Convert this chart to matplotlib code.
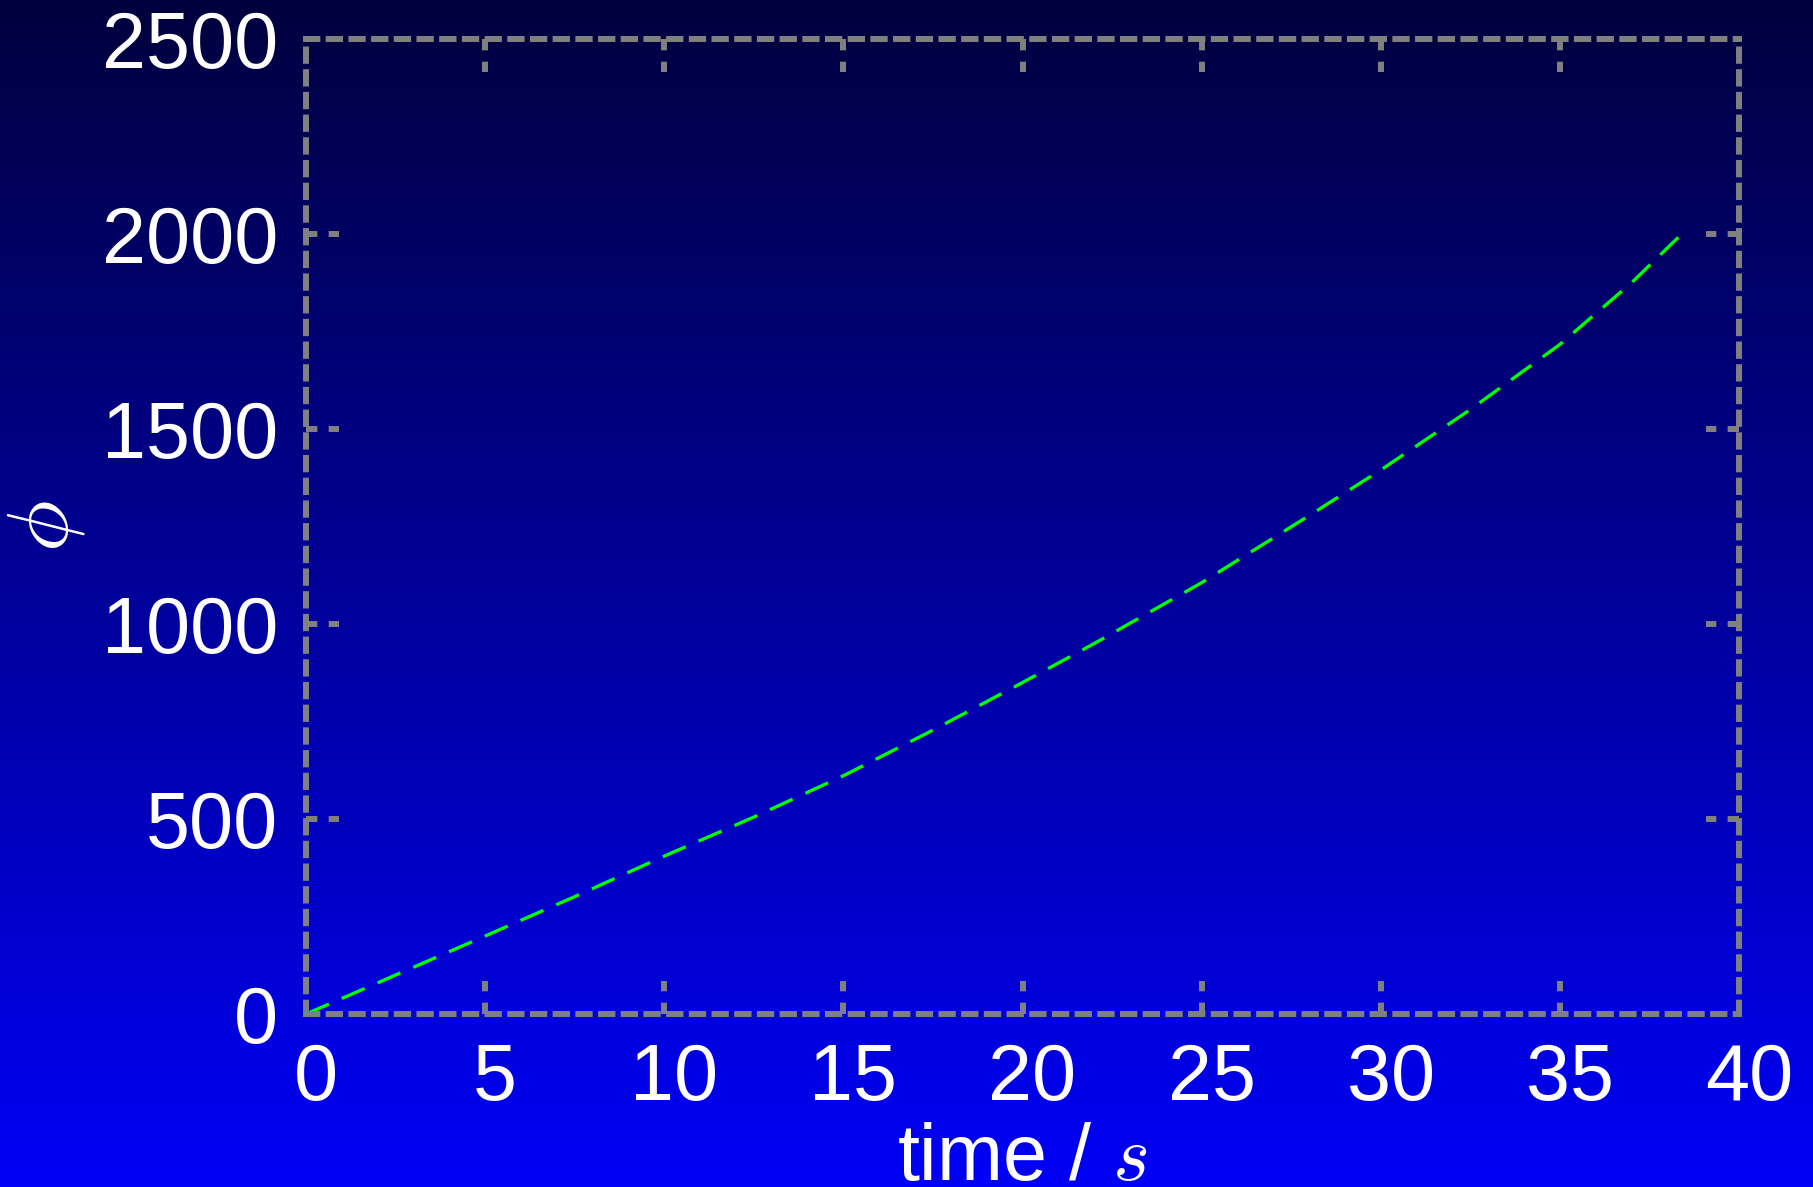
import numpy as np
import matplotlib
matplotlib.use("Agg")
import matplotlib.pyplot as plt
import matplotlib.transforms as mtransforms
from matplotlib.colors import LinearSegmentedColormap

plt.rcParams['font.family'] = ['Liberation Sans', 'DejaVu Sans']
plt.rcParams['mathtext.fontset'] = 'cm'

# values
time_s = [0, 2.5, 5, 7.5, 10, 12.5, 15, 17.5, 20, 22, 25, 28, 30, 32.5, 35, 37, 38.4]
phi = [0, 100, 200, 301, 405, 505, 611, 728, 850, 950, 1106, 1278, 1395, 1550, 1717, 1875, 2000]

xticks = [0, 5, 10, 15, 20, 25, 30, 35, 40]
yticks = [0, 500, 1000, 1500, 2000, 2500]

fig = plt.figure(figsize=(18.13, 11.87), dpi=100)

# vertical gradient background, dark navy at top to bright blue at bottom
bg = fig.add_axes([0, 0, 1, 1], zorder=-10)
grad_cmap = LinearSegmentedColormap.from_list('bg', ['#0000f6', '#00003e'])
bg.imshow(np.linspace(0, 1, 256).reshape(-1, 1), aspect='auto', cmap=grad_cmap,
          origin='lower', extent=[0, 1, 0, 1])
bg.set_axis_off()

ax = fig.add_axes([0.1688, 0.1457, 0.9592 - 0.1688, 0.9671 - 0.1457])
ax.set_facecolor('none')

ax.plot(time_s, phi, color='#00ff00', lw=2.4, dashes=(7.5, 4.2))

ax.set_xlim(0, 40)
ax.set_ylim(0, 2500)
ax.set_xticks(xticks)
ax.set_yticks(yticks)

grey = '#808080'
for sp in ax.spines.values():
    sp.set_color(grey)
    sp.set_linewidth(4.3)
    sp.set_linestyle((0, (1.9, 1.9)))

# dashed inward ticks on all four sides
ax.tick_params(length=0, pad=20, labelsize=57, labelcolor='white')
tlen_x = 33 / 975
tlen_y = 33 / 1433
tx = mtransforms.blended_transform_factory(ax.transData, ax.transAxes)
ty = mtransforms.blended_transform_factory(ax.transAxes, ax.transData)
for x in xticks[1:-1]:
    for y0, y1 in [(0, tlen_x), (1, 1 - tlen_x)]:
        ax.plot([x, x], [y0, y1], transform=tx, color=grey, lw=4.3,
                ls=(0, (1.9, 1.9)), clip_on=False, solid_capstyle='butt')
for y in yticks[1:-1]:
    for x0, x1 in [(0, tlen_y), (1, 1 - tlen_y)]:
        ax.plot([x0, x1], [y, y], transform=ty, color=grey, lw=4.3,
                ls=(0, (1.9, 1.9)), clip_on=False, solid_capstyle='butt')

shift = mtransforms.ScaledTranslation(10 / 100, 0, fig.dpi_scale_trans)
for lab in ax.get_xticklabels():
    lab.set_transform(lab.get_transform() + shift)

ax.set_xlabel('time / $s$', fontsize=57, color='white', labelpad=4)
ax.set_ylabel(r'$\phi$', fontsize=62, color='white', labelpad=11)

fig.savefig('out.png', dpi=100)
